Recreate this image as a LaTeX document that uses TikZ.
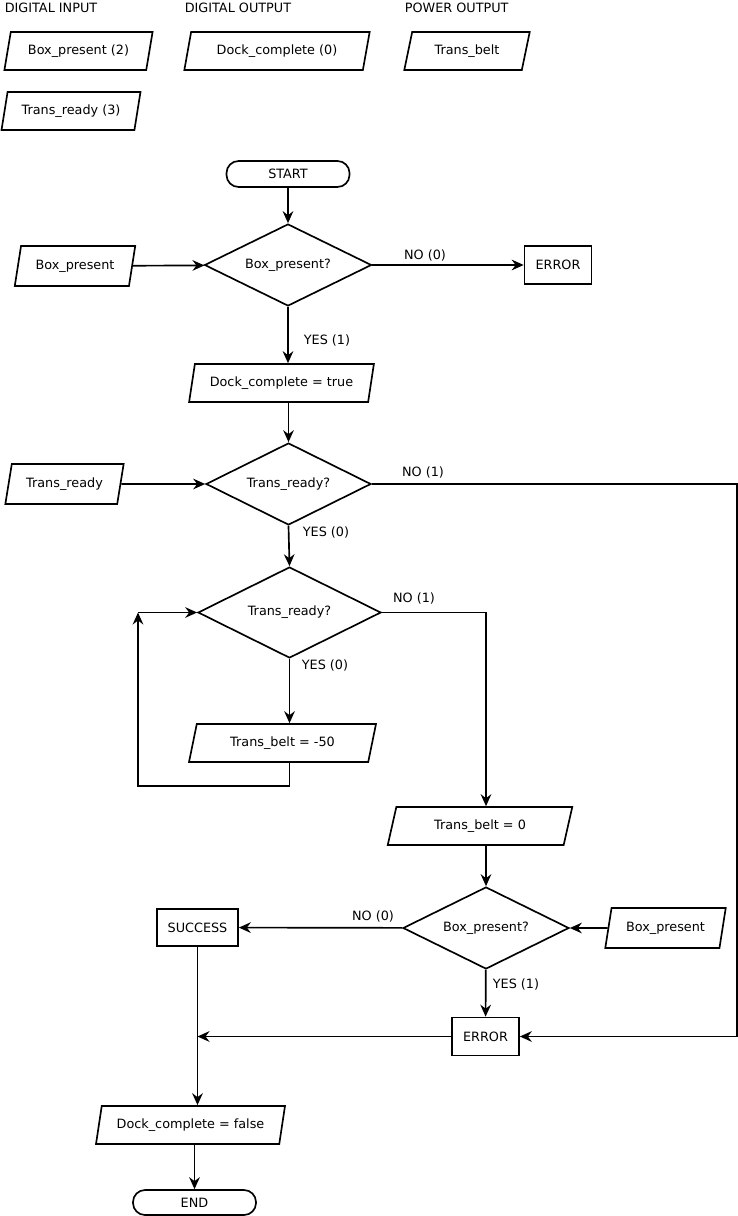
\documentclass[tikz,border=0pt]{standalone}
\usepackage{fontspec}
\setmainfont{DejaVu Sans}
\usetikzlibrary{shapes.geometric,arrows.meta}

\tikzset{
  every node/.style={font=\fontsize{9.6pt}{11pt}\selectfont},
  io/.style={draw, trapezium, trapezium left angle=72.5, trapezium right angle=107.5,
    trapezium stretches=true, minimum height=28.5pt, inner sep=1pt},
  decision/.style={draw, diamond, aspect=2, inner sep=0pt},
  box/.style={draw, rectangle, minimum width=50.25pt, minimum height=28.5pt},
  terminal/.style={draw, rectangle, rounded corners=9pt, minimum width=92.25pt, minimum height=19.5pt},
  arr/.style={-{Stealth[length=9pt,width=8pt,inset=3pt]}}
}

\begin{document}
\begin{tikzpicture}[x=0.75pt, y=-0.75pt, line width=1.25pt]
            \useasboundingbox (0,0) rectangle (738,1216);

            % Variable list
            \node[anchor=west, inner sep=0pt] (hdin) at (4,7.5) {DIGITAL INPUT};
            \node[anchor=west, inner sep=0pt] (hdout) at (184,7.5) {DIGITAL OUTPUT};
            \node[anchor=west, inner sep=0pt] (hpout) at (404,7.5) {POWER OUTPUT};
            \node[io, minimum width=111.75pt] (vbox) at (78.5,51) {Box\_present (2)};
            \node[io, minimum width=139.5pt] (vdock) at (277,51) {Dock\_complete (0)};
            \node[io, minimum width=94.5pt] (vbelt) at (467,51) {Trans\_belt};
            \node[io, minimum width=105pt] (vready) at (71,111) {Trans\_ready (3)};

            % Flow nodes
            \node[terminal] (start) at (288,174) {START};
            \node[decision, minimum width=125.25pt, minimum height=61.5pt] (qbox) at (288,265) {Box\_present?};
            \node[io, minimum width=90.75pt, minimum height=30pt] (inbox) at (75,266) {Box\_present};
            \node[box] (err1) at (558,265) {ERROR};
            \node[io, minimum width=138.75pt] (dtrue) at (281.5,383) {Dock\_complete = true};
            \node[decision, minimum width=123.75pt, minimum height=61.5pt] (qready) at (288.5,484) {Trans\_ready?};
            \node[io, minimum width=89.25pt, minimum height=30pt] (inready) at (64.5,484) {Trans\_ready};
            \node[decision, minimum width=137.25pt, minimum height=68.25pt] (qwait) at (289.5,612.5) {Trans\_ready?};
            \node[io, minimum width=140.25pt] (bback) at (282.5,743) {Trans\_belt = -50};
            \node[io, minimum width=139.5pt] (bstop) at (480,826) {Trans\_belt = 0};
            \node[decision, minimum width=124.5pt, minimum height=61.5pt] (qbox2) at (486,928) {Box\_present?};
            \node[io, minimum width=90.75pt, minimum height=30pt] (inbox2) at (665.5,928) {Box\_present};
            \node[box, minimum width=60.75pt, minimum height=27.75pt] (succ) at (197.5,927.5) {SUCCESS};
            \node[box] (err2) at (485.5,1036.5) {ERROR};
            \node[io, minimum width=141.75pt] (dfalse) at (190.5,1125) {Dock\_complete = false};
            \node[terminal, minimum height=18.75pt] (end) at (194.5,1202.5) {END};

            % Branch labels
            \node (no1) at (425,255) {NO (0)};
            \node (yes1) at (327,340) {YES (1)};
            \node (no2) at (423,472) {NO (1)};
            \node (yes2) at (326,532) {YES (0)};
            \node (no3) at (414,598) {NO (1)};
            \node (yes3) at (325,665) {YES (0)};
            \node (no4) at (373,916) {NO (0)};
            \node (yes4) at (516,984) {YES (1)};

            \coordinate (cright) at (737,484);
            \coordinate (cloop) at (138,786);
            \coordinate (ctop) at (138,612.5);

            % Connectors
            \draw[arr] (start) -- (qbox);
            \draw[arr] (inbox) -- (qbox);
            \draw[arr] (qbox) -- (err1);
            \draw[arr] (qbox.south) -- (qbox.south |- dtrue.north);
            \draw[arr] (qready.north |- dtrue.south) -- (qready.north);
            \draw[arr] (inready) -- (qready);
            \draw[arr] (qready.east) -- (cright) |- (err2.east);
            \draw[arr] (qready.south) -- (qwait.north);
            \draw[arr] (qwait.south) -- (qwait.south |- bback.north);
            \draw[arr] (qwait.south |- bback.south) |- (cloop) -- (ctop);
            \draw[arr] (ctop) -- (qwait.west);
            \draw[arr] (qwait.east) -| (qbox2.north |- bstop.north);
            \draw[arr] (qbox2.north |- bstop.south) -- (qbox2.north);
            \draw[arr] (inbox2) -- (qbox2);
            \draw[arr] (qbox2) -- (succ);
            \draw[arr] (qbox2) -- (err2);
            \draw[arr] (err2.west) -- (err2.west -| succ.south);
            \draw[arr] (succ.south) -- (succ.south |- dfalse.north);
            \draw[arr] (end.north |- dfalse.south) -- (end.north);
        \end{tikzpicture}
\end{document}
